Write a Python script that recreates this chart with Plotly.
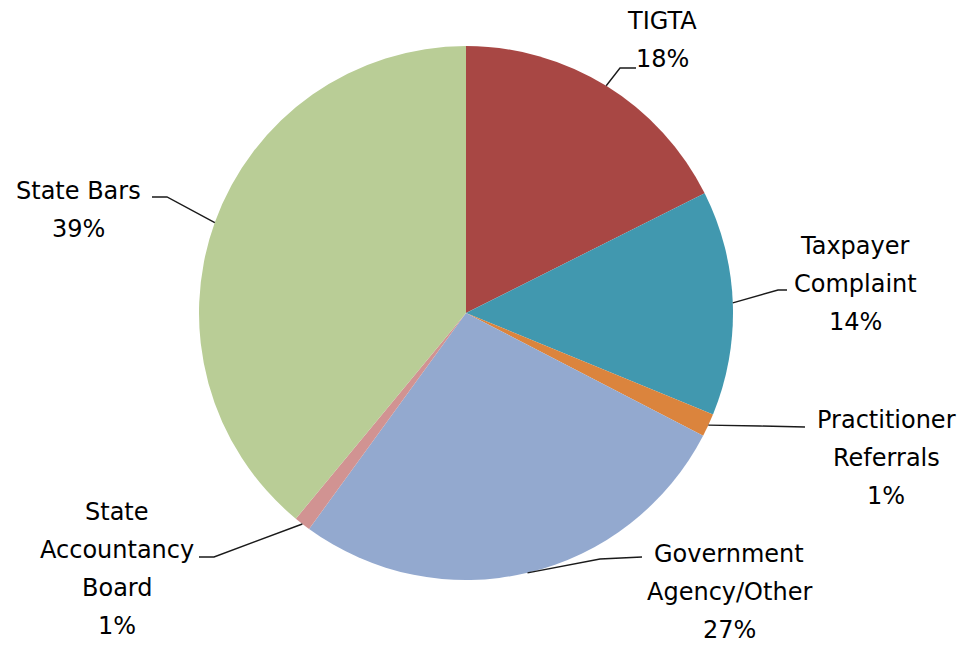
import numpy as np
import plotly.graph_objects as go

labels = ["TIGTA", "Taxpayer Complaint", "Practitioner Referrals",
          "Government Agency/Other", "State Accountancy Board", "State Bars"]
values = [17.6, 13.6, 1.4, 27.4, 1.0, 39.0]
colors = ["#A84744", "#4198AF", "#DB843D", "#93A9CF", "#D19392", "#B9CD96"]
label_lines = [["TIGTA"], ["Taxpayer", "Complaint"], ["Practitioner", "Referrals"],
               ["Government", "Agency/Other"], ["State", "Accountancy", "Board"],
               ["State Bars"]]

W, H = 969, 646
CX, CY, R = 466, 313, 267

# label layout (pixels): centre x, first line y, elbow, end of leader
label_pos = [
    dict(x=662, y=21, elbow=(620, 68), end=(636, 68)),
    dict(x=855, y=246, elbow=(778, 290), end=(787, 290)),
    dict(x=886, y=420, elbow=(760, 426), end=(805, 427)),
    dict(x=729, y=554, elbow=(600, 559), end=(642, 557)),
    dict(x=117, y=512, elbow=(214, 557), end=(199, 557)),
    dict(x=78, y=191, elbow=(167, 197), end=(152, 197)),
]
LINE_H = 38

def px(x):
    return x / W

def py(y):
    return 1 - y / H

fig = go.Figure(go.Pie(
    labels=labels, values=values, sort=False, direction="clockwise", rotation=0,
    marker=dict(colors=colors, line=dict(width=0)),
    textinfo="none", hoverinfo="label+percent", showlegend=False,
    domain=dict(x=[px(CX - R), px(CX + R)], y=[py(CY + R), py(CY - R)]),
))

total = float(np.sum(values))
cum = np.cumsum([0] + values[:-1])
annotations = []
shapes = []
for i, v in enumerate(values):
    mid = (cum[i] + v / 2) / total * 2 * np.pi
    ax = CX + R * np.sin(mid)
    ay = CY - R * np.cos(mid)
    lp = label_pos[i]
    ex, ey = lp["elbow"]
    tx, ty = lp["end"]
    path = f"M {px(ax)},{py(ay)} L {px(ex)},{py(ey)} L {px(tx)},{py(ty)}"
    shapes.append(dict(type="path", xref="paper", yref="paper", path=path,
                       line=dict(color="#1a1a1a", width=1.4)))
    pct = f"{round(v / total * 100):.0f}%"
    lines = label_lines[i] + [pct]
    for j, t in enumerate(lines):
        annotations.append(dict(
            x=px(lp["x"]), y=py(lp["y"] + j * LINE_H), xref="paper", yref="paper",
            text=t, showarrow=False, xanchor="center", yanchor="middle",
            font=dict(family="DejaVu Sans", size=24, color="#000000")))

fig.update_layout(
    width=W, height=H, margin=dict(l=0, r=0, t=0, b=0),
    paper_bgcolor="white", plot_bgcolor="white",
    annotations=annotations, shapes=shapes,
)
fig.write_html("out.html", config={"displayModeBar": False},
               post_script="document.body.style.margin='0';")
